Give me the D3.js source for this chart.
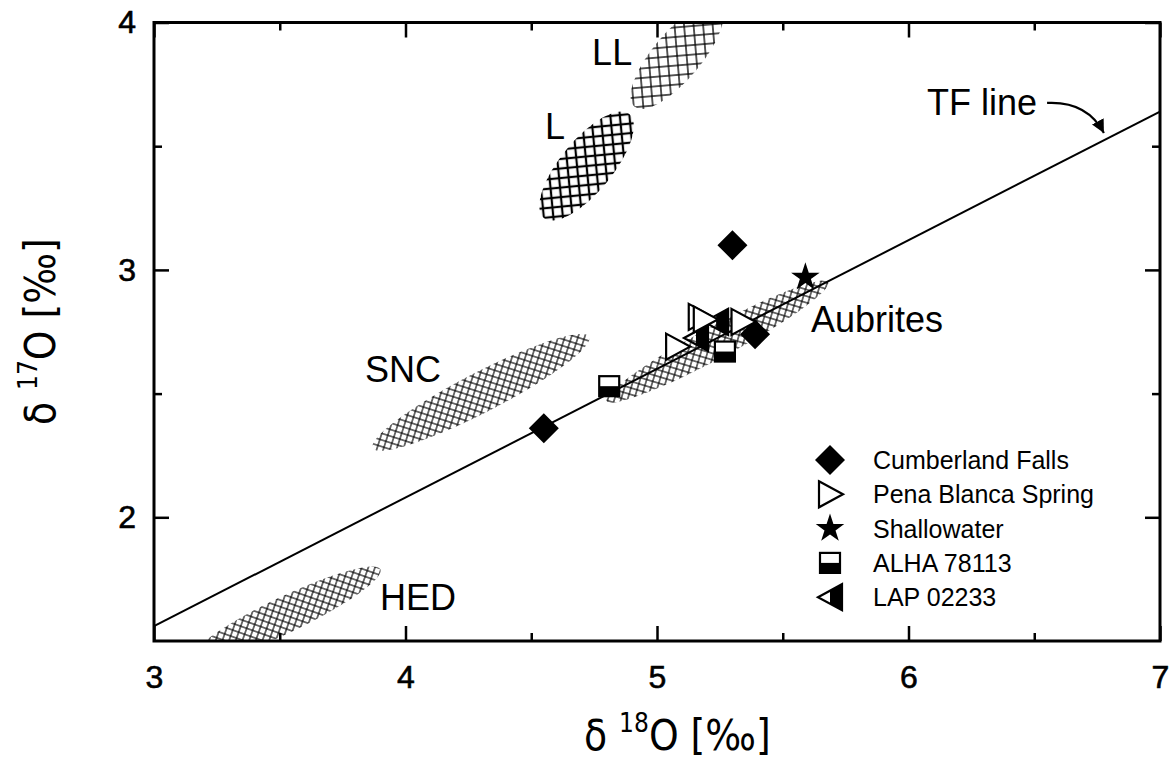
<!DOCTYPE html>
<html><head><meta charset="utf-8">
<script src="https://cdn.jsdelivr.net/npm/d3@7/dist/d3.min.js"></script>
<style>body{margin:0;background:#fff;} svg{display:block}</style>
</head><body><svg id="c" width="1174" height="764"></svg>
<script>
// ---------- data ----------
const xMajorTicks = [3, 4, 5, 6, 7];
const xMinorTicks = [3.5, 4.5, 5.5, 6.5];
const yMajorTicks = [2, 3, 4];
const yMinorTicks = [2.5, 3.5];

const cumberlandX = [4.55, 5.30, 5.39];
const cumberlandY = [2.36, 3.10, 2.74];
const penaX = [5.08, 5.17, 5.19, 5.34];
const penaY = [2.69, 2.81, 2.80, 2.79];
const shallowX = [5.59];
const shallowY = [2.97];
const alhaX = [4.81, 5.27];
const alhaY = [2.53, 2.67];
const lapX = [5.155, 5.235];
const lapY = [2.725, 2.79];

const legendLabels = ["Cumberland Falls", "Pena Blanca Spring", "Shallowater", "ALHA 78113", "LAP 02233"];

const regionNames = ["LL", "L", "SNC", "HED", "Aubrites"];
const regionX1 = [4.91, 4.55, 3.87, 3.14, 4.80];
const regionY1 = [3.66, 3.21, 2.28, 1.42, 2.47];
const regionX2 = [5.25, 4.89, 4.73, 3.90, 5.68];
const regionY2 = [4.07, 3.63, 2.73, 1.79, 2.95];
const regionLabelX = [4.742, 4.555, 3.839, 3.899, 5.612];
const regionLabelY = [3.828, 3.529, 2.547, 1.625, 2.749];

const tfSlope = 0.52;          // terrestrial fractionation line: d17O = 0.52 * d18O
const tfX = [3, 7];
const tfLabelX = 6.074, tfLabelY = 3.626;
const tfArrowStart = [6.551, 3.675], tfArrowEnd = [6.777, 3.553];

// ---------- layout ----------
const svg = d3.select("#c");
const L = 154, R = 1160, T = 22.5, B = 641;
const x = d3.scaleLinear().domain([3, 7]).range([L, R]);
const y = d3.scaleLinear().domain([1.5, 4]).range([B, T]);

const defs = svg.append("defs");
defs.append("clipPath").attr("id", "plotclip").append("rect")
  .attr("x", L).attr("y", T).attr("width", R - L).attr("height", B - T);

function hatch(id, s, w) {
  const p = defs.append("pattern").attr("id", id).attr("patternUnits", "userSpaceOnUse")
    .attr("width", s).attr("height", s).attr("patternTransform", "rotate(45)");
  p.append("rect").attr("width", s).attr("height", s).attr("fill", "#fff");
  p.append("line").attr("x1", 0).attr("y1", 0).attr("x2", s).attr("y2", 0).attr("stroke", "#000").attr("stroke-width", w);
  p.append("line").attr("x1", 0).attr("y1", s).attr("x2", s).attr("y2", s).attr("stroke", "#000").attr("stroke-width", w);
  p.append("line").attr("x1", 0).attr("y1", 0).attr("x2", 0).attr("y2", s).attr("stroke", "#000").attr("stroke-width", w);
  p.append("line").attr("x1", s).attr("y1", 0).attr("x2", s).attr("y2", s).attr("stroke", "#000").attr("stroke-width", w);
}
hatch("hLL", 9.5, 1.3);
hatch("hL", 9.5, 2.2);
hatch("hFine", 6.3, 1.1);
const regionPattern = ["hLL", "hL", "hFine", "hFine", "hFine"];
const regionMinor = [24, 26, 20, 18, 16];

const plot = svg.append("g").attr("clip-path", "url(#plotclip)");

// regions (ellipses)
regionNames.forEach((n, i) => {
  const x1 = x(regionX1[i]), y1 = y(regionY1[i]), x2 = x(regionX2[i]), y2 = y(regionY2[i]);
  const cx = (x1 + x2) / 2, cy = (y1 + y2) / 2;
  const a = Math.hypot(x2 - x1, y2 - y1) / 2;
  const ang = Math.atan2(y2 - y1, x2 - x1) * 180 / Math.PI;
  plot.append("ellipse").attr("cx", 0).attr("cy", 0).attr("rx", a).attr("ry", regionMinor[i])
    .attr("transform", `translate(${cx},${cy}) rotate(${ang})`)
    .attr("fill", `url(#${regionPattern[i]})`);
});

// TF line
plot.append("line").attr("x1", x(tfX[0])).attr("y1", y(tfSlope * tfX[0]))
  .attr("x2", x(tfX[1])).attr("y2", y(tfSlope * tfX[1]))
  .attr("stroke", "#000").attr("stroke-width", 2);

// ---------- symbols ----------
function diamond(g) { g.append("path").attr("d", "M0,-15L15,0L0,15L-15,0Z").attr("fill", "#000"); }
function triRight(g) { g.append("path").attr("d", "M-11,-13L13,0L-11,13Z").attr("fill", "#fff").attr("stroke", "#000").attr("stroke-width", 2.2); }
function star(g) {
  const pts = [];
  for (let k = 0; k < 10; k++) {
    const r = k % 2 ? 5.8 : 15, a = -Math.PI / 2 + k * Math.PI / 5;
    pts.push([r * Math.cos(a), r * Math.sin(a)]);
  }
  g.append("path").attr("d", "M" + pts.map(p => p.join(",")).join("L") + "Z").attr("fill", "#000");
}
function halfSquare(g) {
  g.append("rect").attr("x", -10).attr("y", -10).attr("width", 20).attr("height", 20).attr("fill", "#fff").attr("stroke", "#000").attr("stroke-width", 2.2);
  g.append("rect").attr("x", -10).attr("y", 0).attr("width", 20).attr("height", 10).attr("fill", "#000");
}
function halfTriLeft(g) {
  g.append("path").attr("d", "M0,-6.5L12,-13L12,13L0,6.5Z").attr("fill", "#000");
  g.append("path").attr("d", "M-12,0L12,-13L12,13Z").attr("fill", "none").attr("stroke", "#000").attr("stroke-width", 2.2);
}
const symbolFns = [diamond, triRight, star, halfSquare, halfTriLeft];

function drawSeries(xs, ys, fn) {
  xs.forEach((v, i) => { const g = plot.append("g").attr("transform", `translate(${x(v)},${y(ys[i])})`); fn(g); });
}
drawSeries(cumberlandX, cumberlandY, diamond);
drawSeries(alhaX, alhaY, halfSquare);
drawSeries(lapX, lapY, halfTriLeft);
drawSeries(penaX, penaY, triRight);
drawSeries(shallowX, shallowY, star);

// ---------- axes ----------
const tickFont = "'Liberation Sans', Arial, sans-serif";
function styleAxis(g) {
  g.select(".domain").remove();
  g.selectAll(".tick line").attr("stroke", "#000").attr("stroke-width", 2.5);
}
function styleTickText(sel) {
  sel.attr("fill", "#000").attr("stroke", "#000").attr("stroke-width", 0.6)
    .style("font-family", tickFont).style("font-size", "32px");
}
svg.append("g").attr("transform", `translate(0,${B})`)
  .call(d3.axisBottom(x).tickValues(xMajorTicks).tickSize(-15).tickPadding(0).tickFormat(d3.format("d")))
  .call(styleAxis)
  .call(g => g.selectAll(".tick text").attr("y", 47).attr("dy", 0).call(styleTickText));
svg.append("g").attr("transform", `translate(0,${B})`)
  .call(d3.axisBottom(x).tickValues(xMinorTicks).tickSize(-8).tickFormat("")).call(styleAxis);
svg.append("g").attr("transform", `translate(0,${T})`)
  .call(d3.axisTop(x).tickValues(xMajorTicks).tickSize(-15).tickFormat("")).call(styleAxis);
svg.append("g").attr("transform", `translate(0,${T})`)
  .call(d3.axisTop(x).tickValues(xMinorTicks).tickSize(-8).tickFormat("")).call(styleAxis);
svg.append("g").attr("transform", `translate(${L},0)`)
  .call(d3.axisLeft(y).tickValues(yMajorTicks).tickSize(-15).tickPadding(18).tickFormat(d3.format("d")))
  .call(styleAxis)
  .call(g => g.selectAll(".tick text").call(styleTickText));
svg.append("g").attr("transform", `translate(${L},0)`)
  .call(d3.axisLeft(y).tickValues(yMinorTicks).tickSize(-8).tickFormat("")).call(styleAxis);
svg.append("g").attr("transform", `translate(${R},0)`)
  .call(d3.axisRight(y).tickValues(yMajorTicks).tickSize(-15).tickFormat("")).call(styleAxis);
svg.append("g").attr("transform", `translate(${R},0)`)
  .call(d3.axisRight(y).tickValues(yMinorTicks).tickSize(-8).tickFormat("")).call(styleAxis);

svg.append("rect").attr("x", L).attr("y", T).attr("width", R - L).attr("height", B - T)
  .attr("fill", "none").attr("stroke", "#000").attr("stroke-width", 3);

// ---------- labels ----------
const labelFont = "'Liberation Sans', Arial, sans-serif";
regionNames.forEach((n, i) => {
  svg.append("text").attr("x", x(regionLabelX[i])).attr("y", y(regionLabelY[i]))
    .attr("font-family", labelFont).attr("font-size", 36).text(n);
});
svg.append("text").attr("x", x(tfLabelX)).attr("y", y(tfLabelY))
  .attr("font-family", labelFont).attr("font-size", 36).text("TF line");

defs.append("marker").attr("id", "arrow").attr("viewBox", "0 0 10 10").attr("refX", 10).attr("refY", 5)
  .attr("markerWidth", 6).attr("markerHeight", 6).attr("markerUnits", "strokeWidth").attr("orient", "auto")
  .append("path").attr("d", "M0,0L10,5L0,10Z").attr("fill", "#000");
const ax0 = x(tfArrowStart[0]), ay0 = y(tfArrowStart[1]), ax1 = x(tfArrowEnd[0]), ay1 = y(tfArrowEnd[1]);
svg.append("path").attr("d", `M${ax0},${ay0}Q${ax0 + 40},${ay0 - 2} ${ax1},${ay1}`)
  .attr("fill", "none").attr("stroke", "#000").attr("stroke-width", 2.2).attr("marker-end", "url(#arrow)");

// axis titles
const titleFont = "'Liberation Sans Narrow', 'DejaVu Sans Condensed', sans-serif";
const xt = svg.append("text").attr("x", 584).attr("y", 750).attr("font-family", titleFont).attr("font-size", 42);
xt.append("tspan").text("δ ");
xt.append("tspan").attr("font-size", 26).attr("dy", -18).text("18");
xt.append("tspan").attr("dy", 18).text("O [‰]");

const yt = svg.append("text").attr("transform", "translate(55,425) rotate(-90)").attr("font-family", titleFont).attr("font-size", 42);
yt.append("tspan").text("δ ");
yt.append("tspan").attr("font-size", 26).attr("dy", -18).text("17");
yt.append("tspan").attr("dy", 18).text("O [‰]");

// ---------- legend ----------
const legY0 = 460, legDy = 34.3;
legendLabels.forEach((lab, i) => {
  const g = svg.append("g").attr("transform", `translate(830,${legY0 + i * legDy})`);
  symbolFns[i](g);
  svg.append("text").attr("x", 873).attr("y", legY0 + i * legDy + 9)
    .attr("font-family", labelFont).attr("font-size", 25).text(lab);
});
</script>
</body></html>
